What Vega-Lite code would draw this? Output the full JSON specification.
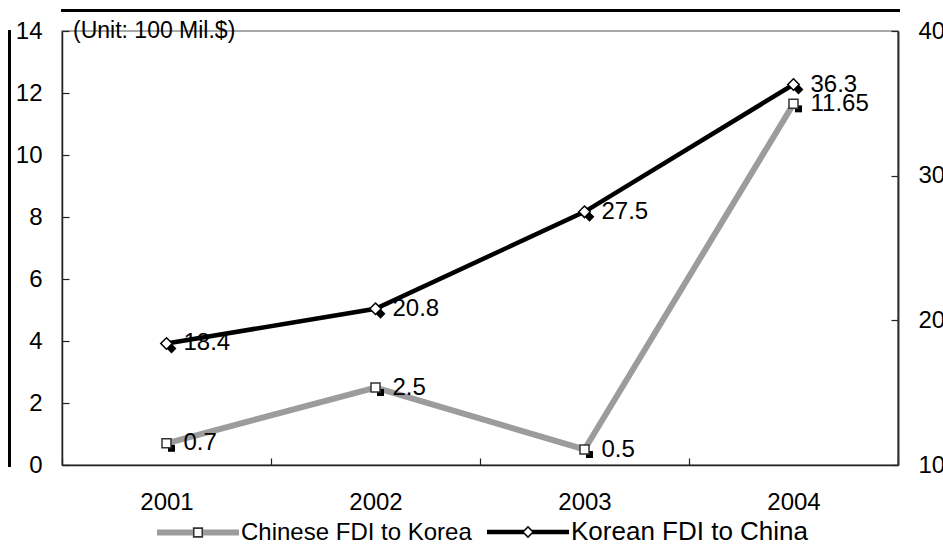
{
  "$schema": "https://vega.github.io/schema/vega-lite/v6.json",
  "width": 836,
  "height": 434,
  "autosize": {"type": "none"},
  "padding": {"left": 62, "top": 31, "right": 45, "bottom": 88},
  "background": "white",
  "config": {
    "font": "Liberation Sans",
    "view": {"stroke": "#8c8c8c", "strokeWidth": 1.5},
    "axis": {
      "grid": false,
      "domainColor": "#222",
      "domainWidth": 1.5,
      "tickColor": "#222",
      "tickWidth": 1.2,
      "tickSize": -7,
      "labelFontSize": 24,
      "labelColor": "#000",
      "labelFont": "Liberation Sans",
      "title": null
    }
  },
  "title": {
    "text": "(Unit: 100 Mil.$)",
    "anchor": "start",
    "frame": "group",
    "orient": "top",
    "offset": 0,
    "baseline": "middle",
    "dx": 11,
    "dy": 44,
    "fontSize": 23,
    "font": "Liberation Sans",
    "fontWeight": "normal",
    "color": "#000"
  },
  "data": {
    "values": [
      {"year": "2001", "series": "Chinese FDI to Korea", "value": 0.7},
      {"year": "2002", "series": "Chinese FDI to Korea", "value": 2.5},
      {"year": "2003", "series": "Chinese FDI to Korea", "value": 0.5},
      {"year": "2004", "series": "Chinese FDI to Korea", "value": 11.65},
      {"year": "2001", "series": "Korean FDI to China", "value": 18.4},
      {"year": "2002", "series": "Korean FDI to China", "value": 20.8},
      {"year": "2003", "series": "Korean FDI to China", "value": 27.5},
      {"year": "2004", "series": "Korean FDI to China", "value": 36.3}
    ]
  },
  "encoding": {
    "x": {
      "field": "year",
      "type": "ordinal",
      "scale": {"paddingInner": 0, "paddingOuter": 0},
      "axis": {"labelAngle": 0, "tickBand": "extent", "labelPadding": 32}
    }
  },
  "layer": [
    {
      "transform": [{"filter": "datum.series === 'Chinese FDI to Korea'"}],
      "encoding": {
        "y": {
          "field": "value",
          "type": "quantitative",
          "scale": {"domain": [0, 14], "nice": false, "zero": false},
          "axis": {"orient": "left", "values": [0, 2, 4, 6, 8, 10, 12, 14], "labelPadding": 27}
        }
      },
      "layer": [
        {
          "mark": {"type": "line", "strokeWidth": 6},
          "encoding": {
            "stroke": {
              "field": "series",
              "type": "nominal",
              "scale": {"range": ["#9c9c9c", "#000000"]},
              "legend": {
                "orient": "none",
                "legendX": 95,
                "legendY": 460,
                "direction": "horizontal",
                "title": null,
                "symbolSize": 6724,
                "symbolStrokeWidth": 0,
                "labelFontSize": 24,
                "labelLimit": 0,
                "labelOffset": 2,
                "columnPadding": 15,
                "padding": 0,
                "labelColor": "#000",
                "encode": {
                  "labels": {"update": {"fontSize": {"signal": "datum.label == 'Korean FDI to China' ? 26 : 24"}}},
                  "symbols": {
                    "update": {
                      "shape": [
                        {"test": "datum.value == 'Korean FDI to China'", "value": "M-1,-0.055H-0.1V0.055H-1Z M0.1,-0.055H1V0.055H0.1Z M0,-0.15L0.15,0L0,0.15L-0.15,0Z M0,-0.1L-0.1,0L0,0.1L0.1,0Z"},
                        {"value": "M-1,-0.075H-0.13V0.075H-1Z M0.13,-0.075H1V0.075H0.13Z M-0.13,-0.13H0.13V0.13H-0.13Z M-0.085,-0.085V0.085H0.085V-0.085Z"}
                      ],
                      "fill": [
                        {"test": "datum.value == 'Korean FDI to China'", "value": "#000000"},
                        {"value": {"gradient": "linear", "x1": 0, "y1": 0, "x2": 1, "y2": 0, "stops": [
                          {"offset": 0, "color": "#9c9c9c"},
                          {"offset": 0.434, "color": "#9c9c9c"},
                          {"offset": 0.434, "color": "#333333"},
                          {"offset": 0.566, "color": "#333333"},
                          {"offset": 0.566, "color": "#9c9c9c"},
                          {"offset": 1, "color": "#9c9c9c"}
                        ]}}
                      ],
                      "fillOpacity": {"value": 1},
                      "opacity": {"value": 1},
                      "stroke": {"value": "transparent"},
                      "strokeWidth": {"value": 0}
                    }
                  }
                }
              }
            }
          }
        },
        {
          "mark": {"type": "point", "shape": "M-0.085,-0.085H0.085V0.085H-0.085Z", "filled": true, "color": "#000", "strokeWidth": 0, "size": 6724, "xOffset": 5, "yOffset": 5, "opacity": 1}
        },
        {
          "mark": {"type": "point", "shape": "M-0.11,-0.11H0.11V0.11H-0.11Z", "filled": true, "fill": "white", "stroke": "#333", "strokeWidth": 1.5, "size": 6724, "opacity": 1}
        },
        {
          "mark": {"type": "text", "align": "left", "baseline": "middle", "dx": 17, "fontSize": 24, "color": "#000"},
          "encoding": {"text": {"field": "value", "type": "nominal"}}
        }
      ]
    },
    {
      "transform": [{"filter": "datum.series === 'Korean FDI to China'"}],
      "encoding": {
        "x": {
          "field": "year",
          "type": "ordinal",
          "scale": {"paddingInner": 0, "paddingOuter": 0},
          "axis": null
        },
        "y": {
          "field": "value",
          "type": "quantitative",
          "scale": {"domain": [10, 40], "nice": false, "zero": false},
          "axis": {"orient": "right", "values": [10, 20, 30, 40], "labelPadding": 27, "domainColor": "#333", "domainWidth": 2}
        }
      },
      "layer": [
        {
          "mark": {"type": "line", "strokeWidth": 4.5},
          "encoding": {
            "stroke": {"field": "series", "type": "nominal"}
          }
        },
        {
          "mark": {"type": "point", "shape": "M0,-0.12L0.12,0L0,0.12L-0.12,0Z", "filled": true, "color": "#000", "strokeWidth": 0, "size": 6724, "xOffset": 5, "yOffset": 5, "opacity": 1}
        },
        {
          "mark": {"type": "point", "shape": "M0,-0.14L0.14,0L0,0.14L-0.14,0Z", "filled": true, "fill": "white", "stroke": "#000", "strokeWidth": 1.5, "size": 6724, "opacity": 1}
        },
        {
          "mark": {"type": "text", "align": "left", "baseline": "middle", "dx": 17, "fontSize": 24, "color": "#000"},
          "encoding": {"text": {"field": "value", "type": "nominal"}}
        }
      ]
    },
    {
      "mark": {"type": "point", "opacity": 0},
      "encoding": {
        "x": {
          "field": "year",
          "type": "ordinal",
          "scale": {"paddingInner": 0, "paddingOuter": 0},
          "axis": {"orient": "top", "offset": 21, "domainColor": "#000", "domainWidth": 3, "domainCap": "square", "ticks": false, "labels": false}
        },
        "y": {
          "field": "value",
          "type": "quantitative",
          "axis": {"orient": "left", "offset": 53, "domainColor": "#000", "domainWidth": 3, "domainCap": "square", "ticks": false, "labels": false}
        }
      }
    }
  ],
  "resolve": {"scale": {"y": "independent", "x": "independent"}}
}
